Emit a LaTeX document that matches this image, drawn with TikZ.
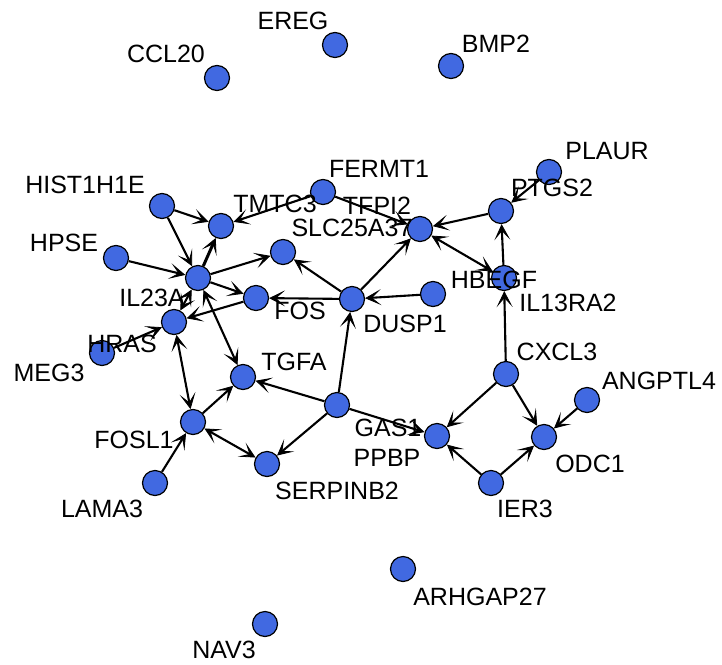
\documentclass[tikz,border=0pt]{standalone}
\usepackage{fontspec}
\setmainfont{Liberation Sans}
\usetikzlibrary{arrows.meta}
\pgfdeclarelayer{background}
\pgfsetlayers{background,main}
\definecolor{vblue}{RGB}{65,105,225}
\tikzset{
  gene/.style={circle, draw=black, line width=1.2pt, fill=vblue, minimum size=25pt, inner sep=0pt},
  glabel/.style={inner sep=0pt, text height=18pt, text depth=0pt, font=\fontsize{25}{30}\selectfont},
  tip/.tip={Stealth[length=16pt,width=16pt,inset=9pt,line width=0.8pt]},
  link/.style={line width=2.1pt, -tip},
  blink/.style={line width=2.1pt, tip-tip}
}
\begin{document}
\begin{tikzpicture}[x=1pt,y=-1pt]
\useasboundingbox (0,0) rectangle (722,664);
% nodes
\node[gene] (EREG) at (335,45) {};
\node[gene] (BMP2) at (451,66) {};
\node[gene] (CCL20) at (217,78) {};
\node[gene] (FERMT1) at (323,192) {};
\node[gene] (PLAUR) at (549,172) {};
\node[gene] (HIST1H1E) at (162,206) {};
\node[gene] (TMTC3) at (221,226) {};
\node[gene] (TFPI2) at (420,229) {};
\node[gene] (PTGS2) at (501,211) {};
\node[gene] (SLC25A37) at (283,252) {};
\node[gene] (HPSE) at (116,258) {};
\node[gene] (IL23A) at (198,278) {};
\node[gene] (FOS) at (256,298) {};
\node[gene] (DUSP1) at (352,299) {};
\node[gene] (HBEGF) at (433,294) {};
\node[gene] (IL13RA2) at (504,278) {};
\node[gene] (HRAS) at (174,322) {};
\node[gene] (MEG3) at (102,353) {};
\node[gene] (TGFA) at (243,377) {};
\node[gene] (CXCL3) at (506,374) {};
\node[gene] (ANGPTL4) at (587,400) {};
\node[gene] (GAS1) at (337,405) {};
\node[gene] (PPBP) at (437,436) {};
\node[gene] (ODC1) at (544,437) {};
\node[gene] (FOSL1) at (193,422) {};
\node[gene] (SERPINB2) at (267,464) {};
\node[gene] (LAMA3) at (155,483) {};
\node[gene] (IER3) at (491,483) {};
\node[gene] (ARHGAP27) at (403,569) {};
\node[gene] (NAV3) at (265,624) {};
% edges
\begin{pgfonlayer}{background}
\draw[link] (HIST1H1E) -- (TMTC3);
\draw[link] (HIST1H1E) -- (IL23A);
\draw[link] (HPSE) -- (IL23A);
\draw[link, line width=3pt] (IL23A) -- (TMTC3);
\draw[link] (IL23A) -- (SLC25A37);
\draw[link] (IL23A) -- (FOS);
\draw[blink] (IL23A) -- (HRAS);
\draw[blink] (IL23A) -- (TGFA);
\draw[link] (FOS) -- (HRAS);
\draw[link] (MEG3) -- (HRAS);
\draw[blink] (HRAS) -- (FOSL1);
\draw[link] (FERMT1) -- (TMTC3);
\draw[link] (FERMT1) -- (TFPI2);
\draw[link] (DUSP1) -- (SLC25A37);
\draw[link] (DUSP1) -- (FOS);
\draw[link] (DUSP1) -- (TFPI2);
\draw[link] (HBEGF) -- (DUSP1);
\draw[link] (PTGS2) -- (TFPI2);
\draw[blink] (TFPI2) -- (IL13RA2);
\draw[link] (IL13RA2) -- (PTGS2);
\draw[link] (PLAUR) -- (PTGS2);
\draw[link] (CXCL3) -- (IL13RA2);
\draw[link] (GAS1) -- (DUSP1);
\draw[link] (GAS1) -- (TGFA);
\draw[link] (GAS1) -- (SERPINB2);
\draw[link] (GAS1) -- (PPBP);
\draw[link] (FOSL1) -- (TGFA);
\draw[blink] (FOSL1) -- (SERPINB2);
\draw[link] (LAMA3) -- (FOSL1);
\draw[link] (CXCL3) -- (PPBP);
\draw[link] (CXCL3) -- (ODC1);
\draw[link] (ANGPTL4) -- (ODC1);
\draw[link] (IER3) -- (PPBP);
\draw[link] (IER3) -- (ODC1);
\end{pgfonlayer}
% labels
\node[glabel] (lEREG) at (293,20) {EREG};
\node[glabel] (lBMP2) at (496,43) {BMP2};
\node[glabel] (lCCL20) at (166,53) {CCL20};
\node[glabel] (lFERMT1) at (379,168) {FERMT1};
\node[glabel] (lPLAUR) at (607,150) {PLAUR};
\node[glabel] (lHIST1H1E) at (85,184) {HIST1H1E};
\node[glabel] (lTMTC3) at (275,203) {TMTC3};
\node[glabel] (lTFPI2) at (377,205) {TFPI2};
\node[glabel] (lPTGS2) at (552,187) {PTGS2};
\node[glabel] (lSLC25A37) at (352,227) {SLC25A37};
\node[glabel] (lHPSE) at (64,242) {HPSE};
\node[glabel] (lIL23A) at (152,297) {IL23A};
\node[glabel] (lFOS) at (300,310) {FOS};
\node[glabel] (lDUSP1) at (405,323) {DUSP1};
\node[glabel] (lHBEGF) at (494,279) {HBEGF};
\node[glabel] (lIL13RA2) at (568,302) {IL13RA2};
\node[glabel] (lHRAS) at (122,343) {HRAS};
\node[glabel] (lMEG3) at (49,372) {MEG3};
\node[glabel] (lTGFA) at (294,361) {TGFA};
\node[glabel] (lCXCL3) at (557,351) {CXCL3};
\node[glabel] (lANGPTL4) at (659,380) {ANGPTL4};
\node[glabel] (lGAS1) at (388,427) {GAS1};
\node[glabel] (lPPBP) at (387,457) {PPBP};
\node[glabel] (lODC1) at (590,463) {ODC1};
\node[glabel] (lFOSL1) at (134,439) {FOSL1};
\node[glabel] (lSERPINB2) at (337,490) {SERPINB2};
\node[glabel] (lLAMA3) at (102,508) {LAMA3};
\node[glabel] (lIER3) at (525,508) {IER3};
\node[glabel] (lARHGAP27) at (480,596) {ARHGAP27};
\node[glabel] (lNAV3) at (224,649) {NAV3};
\end{tikzpicture}
\end{document}
